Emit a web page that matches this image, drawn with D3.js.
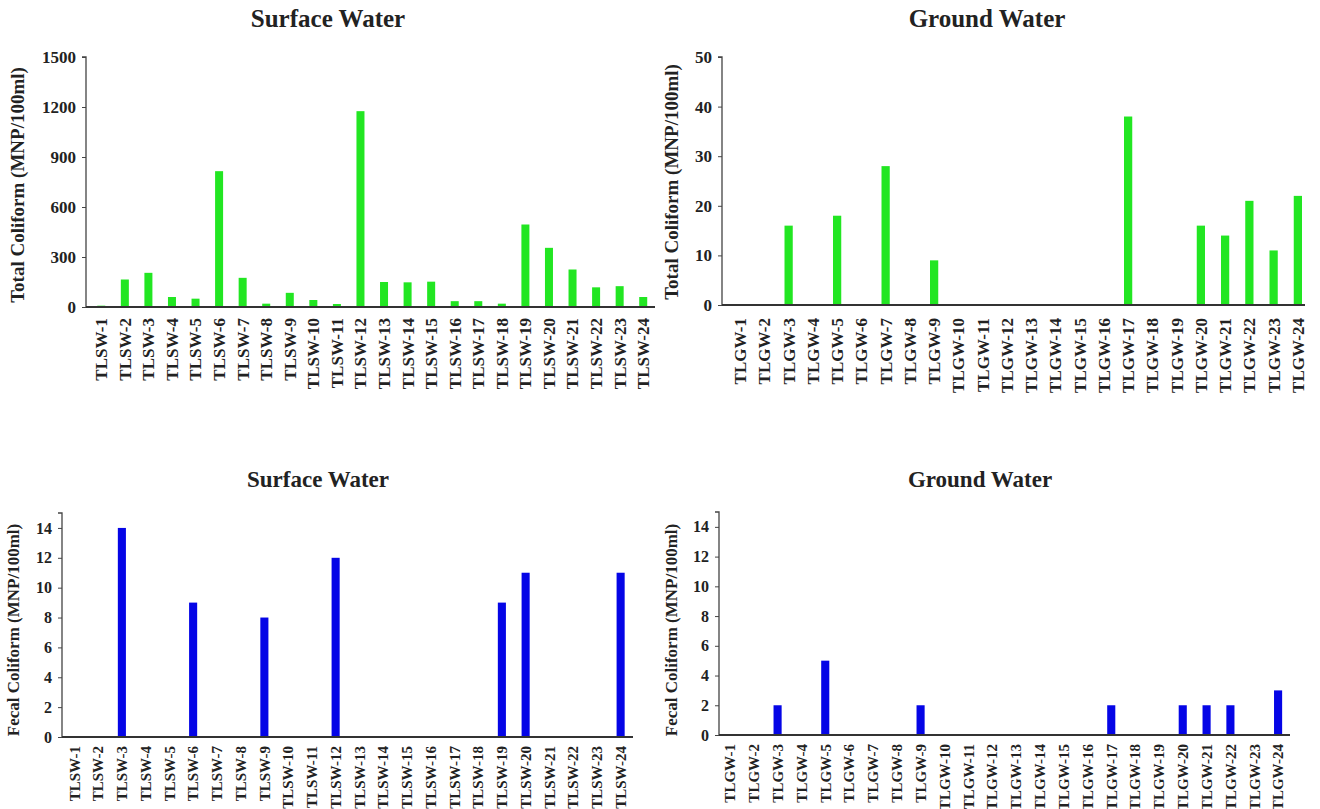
<!DOCTYPE html>
<html>
<head>
<meta charset="utf-8">
<script src="https://cdn.jsdelivr.net/npm/d3@7"></script>
<style>
  body { margin: 0; background: #fff; }
  svg text { font-family: "Liberation Serif", "DejaVu Serif", serif; font-weight: bold; fill: #222; }
</style>
</head>
<body>
<div id="holder"></div>
<script>
const w = 1320;
const h = 809;

// DATA
const swSites = d3.range(1, 25).map(i => "TLSW-" + i);
const gwSites = d3.range(1, 25).map(i => "TLGW-" + i);

const swTotal = [8, 165, 205, 60, 50, 815, 175, 20, 85, 42, 18, 1175, 150, 148, 152, 35, 35, 20, 495, 355, 225, 118, 125, 60];
const gwTotal = [0, 0, 16, 0, 18, 0, 28, 0, 9, 0, 0, 0, 0, 0, 0, 0, 38, 0, 0, 16, 14, 21, 11, 22];
const swFecal = [0, 0, 14, 0, 0, 9, 0, 0, 8, 0, 0, 12, 0, 0, 0, 0, 0, 0, 9, 11, 0, 0, 0, 11];
const gwFecal = [0, 0, 2, 0, 5, 0, 0, 0, 2, 0, 0, 0, 0, 0, 0, 0, 2, 0, 0, 2, 2, 2, 0, 3];

const totalTicks = [0, 300, 600, 900, 1200, 1500];
const gwTotalTicks = [0, 10, 20, 30, 40, 50];
const fecalTicks = [0, 2, 4, 6, 8, 10, 12, 14];

const svg = d3.select("#holder")
    .append("svg")
    .attr("width", w)
    .attr("height", h);

// one panel = title, y axis, bars, rotated site names
function panel(cfg) {
    const g = svg.append("g");

    const x = d3.scaleBand()
        .domain(cfg.sites)
        .range([cfg.x0, cfg.x1])
        .paddingInner(0.66)
        .paddingOuter(0.33);

    const y = d3.scaleLinear()
        .domain([0, cfg.max])
        .range([cfg.y0, cfg.yTop]);

    // title
    g.append("text")
        .attr("x", cfg.titleX)
        .attr("y", cfg.titleY)
        .attr("text-anchor", "middle")
        .style("font-size", cfg.titleFont + "px")
        .text(cfg.title);

    // bars
    g.selectAll("rect")
        .data(cfg.values)
        .enter()
        .append("rect")
        .attr("x", (d, i) => x(cfg.sites[i]))
        .attr("y", d => y(d))
        .attr("width", x.bandwidth())
        .attr("height", d => cfg.y0 - y(d))
        .attr("fill", cfg.color);

    // y axis
    const yAxis = d3.axisLeft(y)
        .tickValues(cfg.ticks)
        .tickFormat(d3.format("d"))
        .tickSize(4)
        .tickPadding(6);

    const ya = g.append("g")
        .attr("transform", "translate(" + cfg.axisX + ",0)")
        .call(yAxis);
    ya.select(".domain").attr("stroke", "#444").attr("stroke-width", 1.3)
        .attr("d", "M-4," + cfg.yTop + "H0V" + cfg.y0);
    ya.selectAll(".tick line").attr("stroke", "#444");
    ya.selectAll("text").style("font-size", cfg.tickFont + "px").attr("fill", "#222");

    // x axis
    const xAxis = d3.axisBottom(x).tickSize(0).tickPadding(0);
    const xa = g.append("g")
        .attr("transform", "translate(0," + cfg.y0 + ")")
        .call(xAxis);
    xa.select(".domain").attr("stroke", "#333").attr("stroke-width", 2)
        .attr("d", "M" + cfg.axisX + ",0H" + cfg.xEnd);
    xa.selectAll("text")
        .attr("transform", "rotate(-90)")
        .attr("text-anchor", "end")
        .attr("x", -cfg.labelGap)
        .attr("y", 0)
        .attr("dy", "0.35em")
        .style("font-size", cfg.labelFont + "px");

    // y label
    g.append("text")
        .attr("transform", "translate(" + cfg.ylabX + "," + cfg.ylabY + ") rotate(-90)")
        .attr("text-anchor", "middle")
        .style("font-size", cfg.ylabFont + "px")
        .text(cfg.ylab);
}

panel({
    title: "Surface Water", titleX: 328, titleY: 27, titleFont: 25,
    sites: swSites, values: swTotal, color: "#22e622",
    max: 1500, ticks: totalTicks,
    x0: 89.5, x1: 655, axisX: 86, xEnd: 655,
    y0: 307, yTop: 57,
    tickFont: 17, labelFont: 17, labelGap: 11,
    ylab: "Total Coliform (MNP/100ml)", ylabX: 24, ylabY: 185, ylabFont: 19
});

panel({
    title: "Ground Water", titleX: 987, titleY: 27, titleFont: 25,
    sites: gwSites, values: gwTotal, color: "#22e622",
    max: 50, ticks: gwTotalTicks,
    x0: 728, x1: 1310, axisX: 722, xEnd: 1305,
    y0: 305, yTop: 57,
    tickFont: 17, labelFont: 17, labelGap: 13,
    ylab: "Total Coliform (MNP/100ml)", ylabX: 678, ylabY: 182, ylabFont: 19
});

panel({
    title: "Surface Water", titleX: 318, titleY: 487, titleFont: 23,
    sites: swSites, values: swFecal, color: "#0505e6",
    max: 15, ticks: fecalTicks,
    x0: 62.5, x1: 632.5, axisX: 62, xEnd: 633,
    y0: 737, yTop: 513,
    tickFont: 16, labelFont: 15, labelGap: 9,
    ylab: "Fecal Coliform (MNP/100ml)", ylabX: 19, ylabY: 630, ylabFont: 17
});

panel({
    title: "Ground Water", titleX: 980, titleY: 487, titleFont: 23,
    sites: gwSites, values: gwFecal, color: "#0505e6",
    max: 15, ticks: fecalTicks,
    x0: 718, x1: 1290, axisX: 719, xEnd: 1290,
    y0: 735, yTop: 512,
    tickFont: 16, labelFont: 15, labelGap: 9,
    ylab: "Fecal Coliform (MNP/100ml)", ylabX: 677, ylabY: 630, ylabFont: 17
});
</script>
</body>
</html>
